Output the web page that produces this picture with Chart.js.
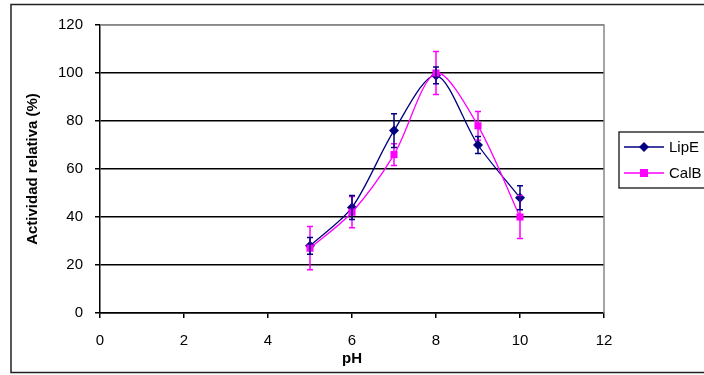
<!DOCTYPE html>
<html>
<head>
<meta charset="utf-8">
<script src="https://cdn.jsdelivr.net/npm/chart.js@4"></script>
<style>
  html, body { margin: 0; padding: 0; background: #fff; }
  #wrap { width: 704px; height: 375px; position: relative; }
</style>
</head>
<body>
<div id="wrap"><canvas id="phChart" width="704" height="375"></canvas></div>
<script>
const phValues = [5, 6, 7, 8, 9, 10];
const lipE = [28, 44, 76, 99, 70, 48];
const lipEErr = [3.5, 5, 7, 3.5, 3.5, 5];
const calB = [27, 42, 66, 100, 78, 40];
const calBErr = [9, 6.5, 4.5, 9, 6, 9];
const xTicks = [0, 2, 4, 6, 8, 10, 12];
const yTicks = [0, 20, 40, 60, 80, 100, 120];

const LIPE_COLOR = "#000080";
const CALB_COLOR = "#ff00ff";
const FONT = "'Liberation Sans', Arial, sans-serif";

const toPoints = (vals) => phValues.map((x, i) => ({ x, y: vals[i] }));

// error bars, frame and legend, drawn on top of the chart
const extras = {
  id: "extras",
  beforeDraw(chart) {
    const c = chart.ctx;
    c.save();
    c.fillStyle = "#fff";
    c.fillRect(0, 0, chart.width, chart.height);
    c.restore();
  },
  afterDatasetsDraw(chart) {
    const c = chart.ctx;
    const xs = chart.scales.x, ys = chart.scales.y;
    const sets = [[calB, calBErr, CALB_COLOR], [lipE, lipEErr, LIPE_COLOR]];
    c.save();
    c.lineWidth = 1.5;
    sets.forEach(([vals, errs, col]) => {
      c.strokeStyle = col;
      vals.forEach((v, i) => {
        const px = xs.getPixelForValue(phValues[i]);
        const top = ys.getPixelForValue(v + errs[i]);
        const bot = ys.getPixelForValue(v - errs[i]);
        c.beginPath();
        c.moveTo(px, top); c.lineTo(px, bot);
        c.moveTo(px - 3, top); c.lineTo(px + 3, top);
        c.moveTo(px - 3, bot); c.lineTo(px + 3, bot);
        c.stroke();
      });
    });
    c.restore();
  },
  afterDraw(chart) {
    const c = chart.ctx;
    const a = chart.chartArea;
    c.save();
    // plot area border (top / right)
    c.strokeStyle = "#888";
    c.lineWidth = 1.5;
    c.beginPath();
    c.moveTo(a.left, a.top); c.lineTo(a.right, a.top); c.lineTo(a.right, a.bottom);
    c.stroke();
    // outer frame
    c.strokeStyle = "#222";
    c.lineWidth = 1.5;
    c.strokeRect(11, 4.5, 700, 368);
    // legend
    c.strokeStyle = "#000";
    c.lineWidth = 1.2;
    c.strokeRect(619, 132, 100, 56);
    const items = [["LipE", LIPE_COLOR, "diamond", 147], ["CalB", CALB_COLOR, "square", 173]];
    c.font = "15px " + FONT;
    c.textBaseline = "middle";
    items.forEach(([label, col, shape, y]) => {
      c.strokeStyle = col;
      c.fillStyle = col;
      c.lineWidth = 1.5;
      c.beginPath(); c.moveTo(624, y); c.lineTo(664, y); c.stroke();
      c.beginPath();
      if (shape === "diamond") {
        c.moveTo(644, y - 5); c.lineTo(649, y); c.lineTo(644, y + 5); c.lineTo(639, y);
        c.closePath(); c.fill();
      } else {
        c.fillRect(640, y - 4, 8, 8);
      }
      c.fillStyle = "#000";
      c.fillText(label, 669, y + 1);
    });
    c.restore();
  }
};

new Chart(document.getElementById("phChart"), {
  type: "line",
  data: {
    datasets: [
      {
        label: "CalB",
        data: toPoints(calB),
        borderColor: CALB_COLOR,
        backgroundColor: CALB_COLOR,
        borderWidth: 1.3,
        pointStyle: "rect",
        pointRadius: 5,
        pointBorderWidth: 0,
        tension: 0.3,
        fill: false
      },
      {
        label: "LipE",
        data: toPoints(lipE),
        borderColor: LIPE_COLOR,
        backgroundColor: LIPE_COLOR,
        borderWidth: 1.3,
        pointStyle: "rectRot",
        pointRadius: 5,
        pointBorderWidth: 0,
        tension: 0.3,
        fill: false
      }
    ]
  },
  options: {
    responsive: false,
    animation: false,
    events: [],
    layout: { padding: { left: 0, right: 100, top: 25, bottom: 0 } },
    plugins: { legend: { display: false }, tooltip: { enabled: false } },
    scales: {
      x: {
        type: "linear",
        min: 0, max: 12,
        afterFit: (s) => { s.height = 62; },
        afterBuildTicks: (s) => { s.ticks = xTicks.map((v) => ({ value: v })); },
        grid: { drawOnChartArea: false, drawTicks: true, tickLength: 5, tickColor: "#000", lineWidth: 1.5 },
        border: { color: "#000", width: 1.5 },
        ticks: { color: "#000", padding: 14, font: { size: 15, family: FONT } },
        title: {
          display: true, text: "pH", color: "#000",
          font: { size: 15, weight: "bold", family: FONT },
          padding: { top: 0, bottom: 7 }
        }
      },
      y: {
        min: 0, max: 120,
        afterFit: (s) => { s.width = 100; },
        afterBuildTicks: (s) => { s.ticks = yTicks.map((v) => ({ value: v })); },
        grid: {
          color: (ctx) => (ctx.tick && ctx.tick.value === 120 ? "#888" : "#000"),
          lineWidth: 1.5,
          tickLength: 5,
          tickColor: "#000"
        },
        border: { color: "#000", width: 1.5 },
        ticks: { color: "#000", padding: 12, font: { size: 15, family: FONT } },
        title: {
          display: true, text: "Actividad relativa (%)", color: "#000",
          font: { size: 15, weight: "bold", family: FONT },
          padding: { top: 24, bottom: 0 }
        }
      }
    }
  },
  plugins: [extras]
});
</script>
</body>
</html>
